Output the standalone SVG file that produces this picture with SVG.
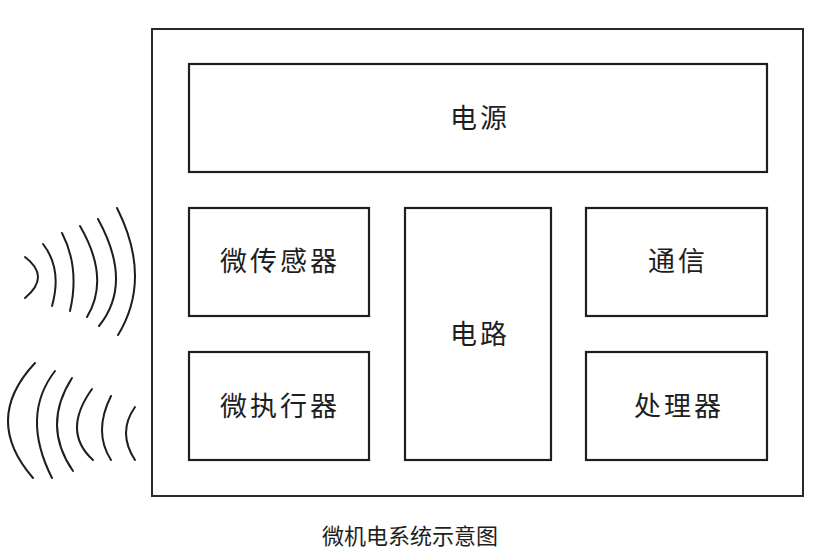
<svg xmlns="http://www.w3.org/2000/svg" width="821" height="558" viewBox="0 0 821 558">
<style>
.box{fill:#fff;stroke:#1e1e1e;stroke-width:2.2}
.outer{fill:none;stroke:#2a2a2a;stroke-width:2}
.lbl{font-family:"Noto Sans CJK SC","Noto Sans",sans-serif;font-size:27px;letter-spacing:3px;fill:#1e1e1e;text-anchor:middle;dominant-baseline:central}
.cap{font-family:"Noto Sans CJK SC","Noto Sans",sans-serif;font-size:22px;fill:#1e1e1e;text-anchor:middle;dominant-baseline:central}
.wave{fill:none;stroke:#1e1e1e;stroke-width:2;stroke-linecap:round}
</style>
<rect width="821" height="558" fill="#fff"/>
<g id="system">
<rect class="outer" x="152" y="29" width="651" height="467"/>
</g>
<g id="power"><rect class="box" x="189" y="64" width="578" height="108"/><text class="lbl" x="480" y="116">电源</text></g>
<g id="sensor"><rect class="box" x="189" y="208" width="180" height="108"/><text class="lbl" x="280" y="259">微传感器</text></g>
<g id="actuator"><rect class="box" x="189" y="352" width="180" height="108"/><text class="lbl" x="280" y="404">微执行器</text></g>
<g id="circuit"><rect class="box" x="405" y="208" width="146" height="252"/><text class="lbl" x="480" y="332">电路</text></g>
<g id="comm"><rect class="box" x="586" y="208" width="181" height="108"/><text class="lbl" x="678" y="259">通信</text></g>
<g id="processor"><rect class="box" x="586" y="352" width="181" height="108"/><text class="lbl" x="679" y="404">处理器</text></g>
<g id="waves-out">
<path class="wave" d="M25,257 Q51,276.5 25,298"/>
<path class="wave" d="M43,244 Q62.5,269 52,306"/>
<path class="wave" d="M62,233 Q80,268 70,311"/>
<path class="wave" d="M80,226 Q110.5,278.5 87,317"/>
<path class="wave" d="M98,219 Q133.5,283.5 99,326"/>
<path class="wave" d="M117,208 Q152.5,278.5 118,335"/>
</g>
<g id="waves-in">
<path class="wave" d="M35,363 Q-18,419.5 33,478"/>
<path class="wave" d="M55,371 Q20.5,415.5 52,478"/>
<path class="wave" d="M72,378 Q41.5,425.5 73,471"/>
<path class="wave" d="M92,389 Q61.5,431.5 93,460"/>
<path class="wave" d="M111,396 Q93,432 111,460"/>
<path class="wave" d="M135,407 Q117,432.5 135,460"/>
</g>
<g id="connectors"></g>
<text class="cap" x="410" y="534">微机电系统示意图</text>
</svg>
